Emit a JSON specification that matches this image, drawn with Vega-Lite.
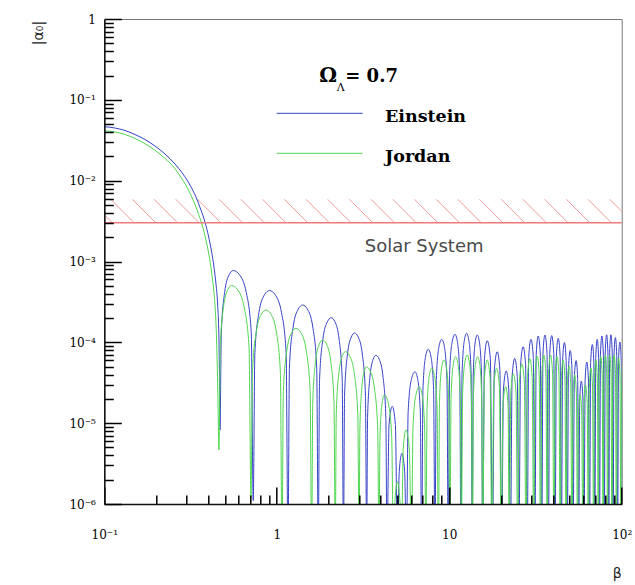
{
"$schema": "https://vega.github.io/schema/vega-lite/v6.json",
"width": 517.4,
"height": 485,
"autosize": {"type": "none"},
"padding": {"left": 104.3, "top": 19, "right": 13.3, "bottom": 81},
"background": "white",
"config": {"view": {"stroke": "#777", "strokeWidth": 1}, "axis": {"grid": false}},
"data": {"values": [{}]},
"resolve": {"axis": {"x": "independent", "y": "independent"}},
"datasets": {
"hatch": [
{"b":0.08152,"b2":0.11128,"a":0.005882,"a2":0.00302},{"b":0.10891,"b2":0.14867,"a":0.005882,"a2":0.00302},{"b":0.14551,"b2":0.19864,"a":0.005882,"a2":0.00302},{"b":0.1944,"b2":0.26538,"a":0.005882,"a2":0.00302},{"b":0.25972,"b2":0.35454,"a":0.005882,"a2":0.00302},{"b":0.34698,"b2":0.47366,"a":0.005882,"a2":0.00302},{"b":0.46356,"b2":0.63281,"a":0.005882,"a2":0.00302},{"b":0.6193,"b2":0.84541,"a":0.005882,"a2":0.00302},{"b":0.82737,"b2":1.12944,"a":0.005882,"a2":0.00302},{"b":1.1053,"b2":1.50884,"a":0.005882,"a2":0.00302},{"b":1.4767,"b2":2.01584,"a":0.005882,"a2":0.00302},{"b":1.9729,"b2":2.69321,"a":0.005882,"a2":0.00302},{"b":2.6357,"b2":3.59799,"a":0.005882,"a2":0.00302},{"b":3.5213,"b2":4.80693,"a":0.005882,"a2":0.00302},{"b":4.7044,"b2":6.42198,"a":0.005882,"a2":0.00302},{"b":6.2849,"b2":8.57952,"a":0.005882,"a2":0.00302},{"b":8.3965,"b2":11.4621,"a":0.005882,"a2":0.00302},{"b":11.219,"b2":15.3151,"a":0.005882,"a2":0.00302},{"b":14.987,"b2":20.4588,"a":0.005882,"a2":0.00302},{"b":20.022,"b2":27.332,"a":0.005882,"a2":0.00302},{"b":26.748,"b2":36.5137,"a":0.005882,"a2":0.00302},{"b":35.735,"b2":48.7819,"a":0.005882,"a2":0.00302},{"b":47.742,"b2":65.1726,"a":0.005882,"a2":0.00302},{"b":63.783,"b2":87.0702,"a":0.005882,"a2":0.00302},{"b":85.212,"b2":116.323,"a":0.005882,"a2":0.00302}
],
"curves": [
{"s":"Einstein","b":0.1,"a":0.0465},{"s":"Einstein","b":0.11536,"a":0.044817},{"s":"Einstein","b":0.13183,"a":0.041737},{"s":"Einstein","b":0.15065,"a":0.03724},{"s":"Einstein","b":0.17216,"a":0.032297},{"s":"Einstein","b":0.19674,"a":0.026838},{"s":"Einstein","b":0.22484,"a":0.021369},{"s":"Einstein","b":0.25696,"a":0.016072},{"s":"Einstein","b":0.28591,"a":0.012088},{"s":"Einstein","b":0.31391,"a":0.0088359},{"s":"Einstein","b":0.34008,"a":0.0062774},{"s":"Einstein","b":0.36357,"a":0.0043346},{"s":"Einstein","b":0.3835,"a":0.0030795},{"s":"Einstein","b":0.40185,"a":0.0020667},{"s":"Einstein","b":0.41826,"a":0.0013481},{"s":"Einstein","b":0.43246,"a":0.00085456},{"s":"Einstein","b":0.44416,"a":0.00052653},{"s":"Einstein","b":0.45435,"a":2.8946e-4},{"s":"Einstein","b":0.4623,"a":1.0681e-4},{"s":"Einstein","b":0.46603,"a":2.5704e-5},{"s":"Einstein","b":0.4685,"a":8.23e-6},
{"s":"Einstein","b":0.477,"a":1.322e-4},{"s":"Einstein","b":0.4985,"a":4.133e-4},{"s":"Einstein","b":0.5305,"a":6.902e-4},{"s":"Einstein","b":0.5595,"a":7.734e-4},{"s":"Einstein","b":0.606,"a":6.902e-4},{"s":"Einstein","b":0.6656,"a":4.133e-4},{"s":"Einstein","b":0.7113,"a":1.322e-4},{"s":"Einstein","b":0.7305,"a":1.1e-6},
{"s":"Einstein","b":0.7467,"a":7.477e-5},{"s":"Einstein","b":0.7882,"a":2.337e-4},{"s":"Einstein","b":0.8502,"a":3.903e-4},{"s":"Einstein","b":0.9072,"a":4.375e-4},{"s":"Einstein","b":0.9769,"a":3.903e-4},{"s":"Einstein","b":1.0652,"a":2.337e-4},{"s":"Einstein","b":1.1331,"a":7.477e-5},{"s":"Einstein","b":1.1613,"a":3e-7},
{"s":"Einstein","b":1.1844,"a":4.946e-5},{"s":"Einstein","b":1.244,"a":1.546e-4},{"s":"Einstein","b":1.3323,"a":2.582e-4},{"s":"Einstein","b":1.413,"a":2.894e-4},{"s":"Einstein","b":1.5041,"a":2.582e-4},{"s":"Einstein","b":1.6178,"a":1.546e-4},{"s":"Einstein","b":1.7042,"a":4.946e-5},{"s":"Einstein","b":1.7401,"a":3e-7},
{"s":"Einstein","b":1.7706,"a":3.445e-5},{"s":"Einstein","b":1.8491,"a":1.077e-4},{"s":"Einstein","b":1.9648,"a":1.799e-4},{"s":"Einstein","b":2.0698,"a":2.016e-4},{"s":"Einstein","b":2.1735,"a":1.799e-4},{"s":"Einstein","b":2.301,"a":1.077e-4},{"s":"Einstein","b":2.3965,"a":3.445e-5},{"s":"Einstein","b":2.4359,"a":3e-7},
{"s":"Einstein","b":2.4726,"a":2.228e-5},{"s":"Einstein","b":2.5668,"a":6.963e-5},{"s":"Einstein","b":2.7047,"a":1.163e-4},{"s":"Einstein","b":2.8287,"a":1.3035e-4},{"s":"Einstein","b":2.968,"a":1.163e-4},{"s":"Einstein","b":3.1391,"a":6.963e-5},{"s":"Einstein","b":3.2674,"a":2.228e-5},{"s":"Einstein","b":3.3201,"a":3e-7},
{"s":"Einstein","b":3.3616,"a":1.18e-5},{"s":"Einstein","b":3.4679,"a":3.69e-5},{"s":"Einstein","b":3.6216,"a":6.162e-5},{"s":"Einstein","b":3.759,"a":6.907e-5},{"s":"Einstein","b":3.9283,"a":6.162e-5},{"s":"Einstein","b":4.1354,"a":3.69e-5},{"s":"Einstein","b":4.29,"a":1.18e-5},{"s":"Einstein","b":4.3535,"a":3e-7},
{"s":"Einstein","b":4.4784,"a":9.674e-6},{"s":"Einstein","b":4.6728,"a":1.6155e-5},{"s":"Einstein","b":4.8714,"a":9.674e-6},{"s":"Einstein","b":5.0086,"a":3e-7},
{"s":"Einstein","b":5.1302,"a":2.536e-6},{"s":"Einstein","b":5.3186,"a":4.235e-6},{"s":"Einstein","b":5.5138,"a":2.536e-6},{"s":"Einstein","b":5.6478,"a":3e-7},
{"s":"Einstein","b":5.7775,"a":1.385e-5},{"s":"Einstein","b":6.0457,"a":3.545e-5},{"s":"Einstein","b":6.3264,"a":4.3285e-5},{"s":"Einstein","b":6.5569,"a":3.545e-5},{"s":"Einstein","b":6.7956,"a":1.385e-5},{"s":"Einstein","b":6.9183,"a":3e-7},
{"s":"Einstein","b":7.0413,"a":2.621e-5},{"s":"Einstein","b":7.2939,"a":6.711e-5},{"s":"Einstein","b":7.5555,"a":8.194e-5},{"s":"Einstein","b":7.8307,"a":6.711e-5},{"s":"Einstein","b":8.1159,"a":2.621e-5},{"s":"Einstein","b":8.2623,"a":3e-7},
{"s":"Einstein","b":8.4138,"a":3.485e-5},{"s":"Einstein","b":8.7248,"a":8.922e-5},{"s":"Einstein","b":9.0473,"a":1.0894e-4},{"s":"Einstein","b":9.3668,"a":8.922e-5},{"s":"Einstein","b":9.6977,"a":3.485e-5},{"s":"Einstein","b":9.8674,"a":3e-7},
{"s":"Einstein","b":10.045,"a":4.019e-5},{"s":"Einstein","b":10.412,"a":1.0288e-4},{"s":"Einstein","b":10.79,"a":1.2562e-4},{"s":"Einstein","b":11.142,"a":1.0288e-4},{"s":"Einstein","b":11.505,"a":4.019e-5},{"s":"Einstein","b":11.691,"a":3e-7},
{"s":"Einstein","b":11.871,"a":4.134e-5},{"s":"Einstein","b":12.238,"a":1.0585e-4},{"s":"Einstein","b":12.614,"a":1.2924e-4},{"s":"Einstein","b":12.997,"a":1.0585e-4},{"s":"Einstein","b":13.393,"a":4.134e-5},{"s":"Einstein","b":13.594,"a":3e-7},
{"s":"Einstein","b":13.776,"a":3.939e-5},{"s":"Einstein","b":14.148,"a":1.0084e-4},{"s":"Einstein","b":14.531,"a":1.2313e-4},{"s":"Einstein","b":14.957,"a":1.0084e-4},{"s":"Einstein","b":15.394,"a":3.939e-5},{"s":"Einstein","b":15.618,"a":3e-7},
{"s":"Einstein","b":16.006,"a":6.269e-5},{"s":"Einstein","b":16.607,"a":1.0469e-4},{"s":"Einstein","b":17.313,"a":6.269e-5},{"s":"Einstein","b":17.801,"a":3e-7},
{"s":"Einstein","b":18.263,"a":4.582e-5},{"s":"Einstein","b":18.979,"a":7.652e-5},{"s":"Einstein","b":19.659,"a":4.582e-5},{"s":"Einstein","b":20.127,"a":3e-7},
{"s":"Einstein","b":20.627,"a":2.645e-5},{"s":"Einstein","b":21.402,"a":4.417e-5},{"s":"Einstein","b":22.133,"a":2.645e-5},{"s":"Einstein","b":22.635,"a":3e-7},
{"s":"Einstein","b":23.161,"a":3.797e-5},{"s":"Einstein","b":23.972,"a":6.342e-5},{"s":"Einstein","b":24.792,"a":3.797e-5},{"s":"Einstein","b":25.355,"a":3e-7},
{"s":"Einstein","b":25.93,"a":5.284e-5},{"s":"Einstein","b":26.817,"a":8.824e-5},{"s":"Einstein","b":27.712,"a":5.284e-5},{"s":"Einstein","b":28.325,"a":3e-7},
{"s":"Einstein","b":28.89,"a":6.523e-5},{"s":"Einstein","b":29.759,"a":1.0894e-4},{"s":"Einstein","b":30.728,"a":6.523e-5},{"s":"Einstein","b":31.391,"a":3e-7},
{"s":"Einstein","b":31.95,"a":7.167e-5},{"s":"Einstein","b":32.805,"a":1.1969e-4},{"s":"Einstein","b":33.738,"a":7.167e-5},{"s":"Einstein","b":34.374,"a":3e-7},
{"s":"Einstein","b":34.967,"a":7.373e-5},{"s":"Einstein","b":35.874,"a":1.2313e-4},{"s":"Einstein","b":36.895,"a":7.373e-5},{"s":"Einstein","b":37.59,"a":3e-7},
{"s":"Einstein","b":38.258,"a":7.269e-5},{"s":"Einstein","b":39.283,"a":1.2139e-4},{"s":"Einstein","b":40.368,"a":7.269e-5},{"s":"Einstein","b":41.106,"a":3e-7},
{"s":"Einstein","b":41.793,"a":6.713e-5},{"s":"Einstein","b":42.843,"a":1.121e-4},{"s":"Einstein","b":43.956,"a":6.713e-5},{"s":"Einstein","b":44.712,"a":3e-7},
{"s":"Einstein","b":45.435,"a":5.955e-5},{"s":"Einstein","b":46.541,"a":9.945e-5},{"s":"Einstein","b":47.633,"a":5.955e-5},{"s":"Einstein","b":48.377,"a":3e-7},
{"s":"Einstein","b":49.132,"a":4.741e-5},{"s":"Einstein","b":50.286,"a":7.918e-5},{"s":"Einstein","b":51.467,"a":4.741e-5},{"s":"Einstein","b":52.271,"a":3e-7},
{"s":"Einstein","b":53.115,"a":3.567e-5},{"s":"Einstein","b":54.406,"a":5.957e-5},{"s":"Einstein","b":55.552,"a":3.567e-5},{"s":"Einstein","b":56.327,"a":3e-7},
{"s":"Einstein","b":57.115,"a":1.989e-5},{"s":"Einstein","b":58.318,"a":3.321e-5},{"s":"Einstein","b":59.593,"a":1.989e-5},{"s":"Einstein","b":60.457,"a":3e-7},
{"s":"Einstein","b":61.368,"a":3.416e-5},{"s":"Einstein","b":62.76,"a":5.705e-5},{"s":"Einstein","b":64.131,"a":3.416e-5},{"s":"Einstein","b":65.062,"a":3e-7},
{"s":"Einstein","b":66.078,"a":5.627e-5},{"s":"Einstein","b":67.631,"a":9.397e-5},{"s":"Einstein","b":68.944,"a":5.627e-5},{"s":"Einstein","b":69.833,"a":3e-7},
{"s":"Einstein","b":70.735,"a":6.523e-5},{"s":"Einstein","b":72.106,"a":1.0894e-4},{"s":"Einstein","b":73.447,"a":6.523e-5},{"s":"Einstein","b":74.353,"a":3e-7},
{"s":"Einstein","b":75.313,"a":7.167e-5},{"s":"Einstein","b":76.775,"a":1.1969e-4},{"s":"Einstein","b":78.265,"a":7.167e-5},{"s":"Einstein","b":79.274,"a":3e-7},
{"s":"Einstein","b":80.253,"a":7.416e-5},{"s":"Einstein","b":81.745,"a":1.2384e-4},{"s":"Einstein","b":83.199,"a":7.416e-5},{"s":"Einstein","b":84.182,"a":3e-7},
{"s":"Einstein","b":85.132,"a":7.416e-5},{"s":"Einstein","b":86.574,"a":1.2384e-4},{"s":"Einstein","b":88.115,"a":7.416e-5},{"s":"Einstein","b":89.156,"a":3e-7},
{"s":"Einstein","b":90.257,"a":6.867e-5},{"s":"Einstein","b":91.935,"a":1.1468e-4},{"s":"Einstein","b":93.568,"a":6.867e-5},{"s":"Einstein","b":94.674,"a":3e-7},
{"s":"Einstein","b":95.853,"a":6.041e-5},{"s":"Einstein","b":97.636,"a":1.0088e-4},{"s":"Einstein","b":99.371,"a":6.041e-5},{"s":"Einstein","b":100.55,"a":3e-7},
{"s":"Jordan","b":0.1,"a":0.0415},{"s":"Jordan","b":0.11536,"a":0.039991},{"s":"Jordan","b":0.13183,"a":0.03724},{"s":"Jordan","b":0.15065,"a":0.033232},{"s":"Jordan","b":0.17216,"a":0.028655},{"s":"Jordan","b":0.19674,"a":0.023744},{"s":"Jordan","b":0.22484,"a":0.018798},{"s":"Jordan","b":0.25696,"a":0.014057},{"s":"Jordan","b":0.28213,"a":0.010483},{"s":"Jordan","b":0.3077,"a":0.0076629},{"s":"Jordan","b":0.33113,"a":0.005444},{"s":"Jordan","b":0.35257,"a":0.003813},{"s":"Jordan","b":0.37092,"a":0.0027479},{"s":"Jordan","b":0.38866,"a":0.0018441},{"s":"Jordan","b":0.40454,"a":0.0012028},{"s":"Jordan","b":0.41826,"a":0.00076254},{"s":"Jordan","b":0.42957,"a":0.00046982},{"s":"Jordan","b":0.43944,"a":2.6577e-4},{"s":"Jordan","b":0.44772,"a":1.0681e-4},{"s":"Jordan","b":0.45496,"a":2.5704e-5},{"s":"Jordan","b":0.4623,"a":4.652e-6},
{"s":"Jordan","b":0.47021,"a":8.624e-5},{"s":"Jordan","b":0.49059,"a":2.696e-4},{"s":"Jordan","b":0.52055,"a":4.502e-4},{"s":"Jordan","b":0.54771,"a":5.046e-4},{"s":"Jordan","b":0.59172,"a":4.502e-4},{"s":"Jordan","b":0.64759,"a":2.696e-4},{"s":"Jordan","b":0.69063,"a":8.624e-5},{"s":"Jordan","b":0.70865,"a":1.2e-6},
{"s":"Jordan","b":0.72299,"a":4.29e-5},{"s":"Jordan","b":0.7601,"a":1.341e-4},{"s":"Jordan","b":0.81527,"a":2.239e-4},{"s":"Jordan","b":0.86574,"a":2.51e-4},{"s":"Jordan","b":0.92304,"a":2.239e-4},{"s":"Jordan","b":0.99467,"a":1.341e-4},{"s":"Jordan","b":1.0493,"a":4.29e-5},{"s":"Jordan","b":1.0718,"a":3e-7},
{"s":"Jordan","b":1.0921,"a":2.548e-5},{"s":"Jordan","b":1.1443,"a":7.964e-5},{"s":"Jordan","b":1.2217,"a":1.33e-4},{"s":"Jordan","b":1.2921,"a":1.4908e-4},{"s":"Jordan","b":1.376,"a":1.33e-4},{"s":"Jordan","b":1.4808,"a":7.964e-5},{"s":"Jordan","b":1.5603,"a":2.548e-5},{"s":"Jordan","b":1.5934,"a":3e-7},
{"s":"Jordan","b":1.617,"a":1.825e-5},{"s":"Jordan","b":1.6774,"a":5.706e-5},{"s":"Jordan","b":1.7659,"a":9.53e-5},{"s":"Jordan","b":1.8454,"a":1.0681e-4},{"s":"Jordan","b":1.9408,"a":9.53e-5},{"s":"Jordan","b":2.0585,"a":5.706e-5},{"s":"Jordan","b":2.147,"a":1.825e-5},{"s":"Jordan","b":2.1834,"a":3e-7},
{"s":"Jordan","b":2.2133,"a":1.308e-5},{"s":"Jordan","b":2.29,"a":4.088e-5},{"s":"Jordan","b":2.4017,"a":6.827e-5},{"s":"Jordan","b":2.5019,"a":7.652e-5},{"s":"Jordan","b":2.643,"a":6.827e-5},{"s":"Jordan","b":2.8178,"a":4.088e-5},{"s":"Jordan","b":2.9494,"a":1.308e-5},{"s":"Jordan","b":3.0039,"a":3e-7},
{"s":"Jordan","b":3.0333,"a":8.457e-6},{"s":"Jordan","b":3.1083,"a":2.644e-5},{"s":"Jordan","b":3.2159,"a":4.415e-5},{"s":"Jordan","b":3.3113,"a":4.949e-5},{"s":"Jordan","b":3.4813,"a":4.415e-5},{"s":"Jordan","b":3.6909,"a":2.644e-5},{"s":"Jordan","b":3.8479,"a":8.457e-6},{"s":"Jordan","b":3.9126,"a":3e-7},
{"s":"Jordan","b":3.9705,"a":7.13e-6},{"s":"Jordan","b":4.0888,"a":1.8255e-5},{"s":"Jordan","b":4.2107,"a":2.229e-5},{"s":"Jordan","b":4.418,"a":1.8255e-5},{"s":"Jordan","b":4.6355,"a":7.13e-6},{"s":"Jordan","b":4.7482,"a":3e-7},
{"s":"Jordan","b":4.8507,"a":1.129e-6},{"s":"Jordan","b":5.0086,"a":1.886e-6},{"s":"Jordan","b":5.1715,"a":1.129e-6},{"s":"Jordan","b":5.2833,"a":3e-7},
{"s":"Jordan","b":5.4117,"a":4.925e-6},{"s":"Jordan","b":5.6104,"a":8.225e-6},{"s":"Jordan","b":5.863,"a":4.925e-6},{"s":"Jordan","b":6.0377,"a":3e-7},
{"s":"Jordan","b":6.1649,"a":9.034e-6},{"s":"Jordan","b":6.4269,"a":2.313e-5},{"s":"Jordan","b":6.7002,"a":2.824e-5},{"s":"Jordan","b":6.9442,"a":2.313e-5},{"s":"Jordan","b":7.1972,"a":9.034e-6},{"s":"Jordan","b":7.3271,"a":3e-7},
{"s":"Jordan","b":7.4394,"a":1.5256e-5},{"s":"Jordan","b":7.6694,"a":3.906e-5},{"s":"Jordan","b":7.9063,"a":4.769e-5},{"s":"Jordan","b":8.1986,"a":3.906e-5},{"s":"Jordan","b":8.5022,"a":1.5256e-5},{"s":"Jordan","b":8.6574,"a":3e-7},
{"s":"Jordan","b":8.7855,"a":1.932e-5},{"s":"Jordan","b":9.0473,"a":4.947e-5},{"s":"Jordan","b":9.317,"a":6.04e-5},{"s":"Jordan","b":9.6203,"a":4.947e-5},{"s":"Jordan","b":9.9335,"a":1.932e-5},{"s":"Jordan","b":10.094,"a":3e-7},
{"s":"Jordan","b":10.249,"a":2.123e-5},{"s":"Jordan","b":10.565,"a":5.436e-5},{"s":"Jordan","b":10.891,"a":6.637e-5},{"s":"Jordan","b":11.233,"a":5.436e-5},{"s":"Jordan","b":11.588,"a":2.123e-5},{"s":"Jordan","b":11.768,"a":3e-7},
{"s":"Jordan","b":11.951,"a":2.229e-5},{"s":"Jordan","b":12.329,"a":5.707e-5},{"s":"Jordan","b":12.716,"a":6.968e-5},{"s":"Jordan","b":13.074,"a":5.707e-5},{"s":"Jordan","b":13.443,"a":2.229e-5},{"s":"Jordan","b":13.631,"a":3e-7},
{"s":"Jordan","b":13.821,"a":2.123e-5},{"s":"Jordan","b":14.209,"a":5.436e-5},{"s":"Jordan","b":14.609,"a":6.637e-5},{"s":"Jordan","b":15.005,"a":5.436e-5},{"s":"Jordan","b":15.411,"a":2.123e-5},{"s":"Jordan","b":15.618,"a":3e-7},
{"s":"Jordan","b":16.006,"a":3.617e-5},{"s":"Jordan","b":16.607,"a":6.04e-5},{"s":"Jordan","b":17.244,"a":3.617e-5},{"s":"Jordan","b":17.683,"a":3e-7},
{"s":"Jordan","b":18.132,"a":2.856e-5},{"s":"Jordan","b":18.827,"a":4.769e-5},{"s":"Jordan","b":19.533,"a":2.856e-5},{"s":"Jordan","b":20.02,"a":3e-7},
{"s":"Jordan","b":20.506,"a":1.691e-5},{"s":"Jordan","b":21.259,"a":2.824e-5},{"s":"Jordan","b":21.922,"a":1.691e-5},{"s":"Jordan","b":22.275,"a":3e-7},
{"s":"Jordan","b":22.769,"a":2.428e-5},{"s":"Jordan","b":23.528,"a":4.054e-5},{"s":"Jordan","b":24.372,"a":2.428e-5},{"s":"Jordan","b":24.952,"a":3e-7},
{"s":"Jordan","b":25.504,"a":3.229e-5},{"s":"Jordan","b":26.356,"a":5.392e-5},{"s":"Jordan","b":27.257,"a":3.229e-5},{"s":"Jordan","b":27.875,"a":3e-7},
{"s":"Jordan","b":28.447,"a":3.777e-5},{"s":"Jordan","b":29.326,"a":6.307e-5},{"s":"Jordan","b":30.256,"a":3.777e-5},{"s":"Jordan","b":30.892,"a":3e-7},
{"s":"Jordan","b":31.459,"a":4.055e-5},{"s":"Jordan","b":32.328,"a":6.772e-5},{"s":"Jordan","b":33.219,"a":4.055e-5},{"s":"Jordan","b":33.828,"a":3e-7},
{"s":"Jordan","b":34.429,"a":4.172e-5},{"s":"Jordan","b":35.351,"a":6.968e-5},{"s":"Jordan","b":36.327,"a":4.172e-5},{"s":"Jordan","b":36.993,"a":3e-7},
{"s":"Jordan","b":37.651,"a":4.172e-5},{"s":"Jordan","b":38.66,"a":6.968e-5},{"s":"Jordan","b":39.726,"a":4.172e-5},{"s":"Jordan","b":40.454,"a":3e-7},
{"s":"Jordan","b":41.128,"a":3.997e-5},{"s":"Jordan","b":42.163,"a":6.676e-5},{"s":"Jordan","b":43.257,"a":3.997e-5},{"s":"Jordan","b":44.003,"a":3e-7},
{"s":"Jordan","b":44.689,"a":3.617e-5},{"s":"Jordan","b":45.74,"a":6.04e-5},{"s":"Jordan","b":46.852,"a":3.617e-5},{"s":"Jordan","b":47.608,"a":3e-7},
{"s":"Jordan","b":48.352,"a":3.05e-5},{"s":"Jordan","b":49.487,"a":5.093e-5},{"s":"Jordan","b":50.65,"a":3.05e-5},{"s":"Jordan","b":51.44,"a":3e-7},
{"s":"Jordan","b":52.216,"a":2.36e-5},{"s":"Jordan","b":53.4,"a":3.941e-5},{"s":"Jordan","b":54.611,"a":2.36e-5},{"s":"Jordan","b":55.433,"a":3e-7},
{"s":"Jordan","b":56.208,"a":1.335e-5},{"s":"Jordan","b":57.39,"a":2.229e-5},{"s":"Jordan","b":58.645,"a":1.335e-5},{"s":"Jordan","b":59.496,"a":3e-7},
{"s":"Jordan","b":60.36,"a":1.774e-5},{"s":"Jordan","b":61.68,"a":2.963e-5},{"s":"Jordan","b":63.079,"a":1.774e-5},{"s":"Jordan","b":64.03,"a":3e-7},
{"s":"Jordan","b":64.924,"a":2.881e-5},{"s":"Jordan","b":66.29,"a":4.812e-5},{"s":"Jordan","b":67.739,"a":2.881e-5},{"s":"Jordan","b":68.723,"a":3e-7},
{"s":"Jordan","b":69.571,"a":3.617e-5},{"s":"Jordan","b":70.865,"a":6.04e-5},{"s":"Jordan","b":72.24,"a":3.617e-5},{"s":"Jordan","b":73.174,"a":3e-7},
{"s":"Jordan","b":74.116,"a":3.997e-5},{"s":"Jordan","b":75.555,"a":6.676e-5},{"s":"Jordan","b":77.022,"a":3.997e-5},{"s":"Jordan","b":78.013,"a":3e-7},
{"s":"Jordan","b":78.935,"a":4.172e-5},{"s":"Jordan","b":80.34,"a":6.968e-5},{"s":"Jordan","b":81.833,"a":4.172e-5},{"s":"Jordan","b":82.843,"a":3e-7},
{"s":"Jordan","b":83.777,"a":4.172e-5},{"s":"Jordan","b":85.199,"a":6.968e-5},{"s":"Jordan","b":86.714,"a":4.172e-5},{"s":"Jordan","b":87.738,"a":3e-7},
{"s":"Jordan","b":88.775,"a":4.113e-5},{"s":"Jordan","b":90.352,"a":6.869e-5},{"s":"Jordan","b":92.032,"a":4.113e-5},{"s":"Jordan","b":93.17,"a":3e-7},
{"s":"Jordan","b":94.271,"a":3.83e-5},{"s":"Jordan","b":95.946,"a":6.396e-5},{"s":"Jordan","b":97.731,"a":3.83e-5},{"s":"Jordan","b":98.937,"a":3e-7},
{"s":"Jordan","b":100.0,"a":3.417e-5},{"s":"Jordan","b":101.2,"a":5.7e-5}
]
},
"layer": [
{
"data": {"name": "hatch"},
"mark": {"type": "rule", "stroke": "#f29c9c", "strokeWidth": 1, "clip": true},
"encoding": {
"x": {"field": "b", "type": "quantitative", "scale": {"type": "log", "domain": [0.1, 100]},
"axis": {"orient": "bottom", "zindex": 1, "values": [0.2,0.3,0.4,0.5,0.6,0.7,0.8,0.9,2,3,4,5,6,7,8,9,20,30,40,50,60,70,80,90], "tickSize": -9, "labels": false, "domain": false, "title": null, "tickColor": "#000", "tickWidth": 1.5}},
"x2": {"field": "b2"},
"y": {"field": "a", "type": "quantitative", "scale": {"type": "log", "domain": [0.000001, 1]},
"axis": {"orient": "left", "zindex": 1, "values": [2e-6,3e-6,4e-6,5e-6,6e-6,7e-6,8e-6,9e-6,2e-5,3e-5,4e-5,5e-5,6e-5,7e-5,8e-5,9e-5,2e-4,3e-4,4e-4,5e-4,6e-4,7e-4,8e-4,9e-4,0.002,0.003,0.004,0.005,0.006,0.007,0.008,0.009,0.02,0.03,0.04,0.05,0.06,0.07,0.08,0.09,0.2,0.3,0.4,0.5,0.6,0.7,0.8,0.9], "tickSize": -9, "labels": false, "domain": false, "title": null, "tickColor": "#000", "tickWidth": 1.5}},
"y2": {"field": "a2"}
}
},
{
"data": {"name": "curves"},
"mark": {"type": "line", "interpolate": "monotone", "strokeWidth": 1, "clip": true},
"encoding": {
"x": {"field": "b", "type": "quantitative", "scale": {"type": "log", "domain": [0.1, 100]}, "title": "β",
"axis": {
"orient": "bottom", "zindex": 1,
"values": [0.1, 1, 10, 100],
"labelExpr": "round(log(datum.value)/LN10) == 0 ? '1' : round(log(datum.value)/LN10) == 1 ? '10' : '10' + ['⁻⁶','⁻⁵','⁻⁴','⁻³','⁻²','⁻¹','','','²'][round(log(datum.value)/LN10) + 6]",
"tickSize": -17,
"labelPadding": 42,
"labelFont": "DejaVu Serif", "labelFontSize": 12, "labelColor": "#000",
"labelFlush": false, "labelOverlap": false, "labelBound": false,
"domainColor": "#111", "domainWidth": 1.5, "tickColor": "#000", "tickWidth": 1.5,
"titleX": 512.4, "titleY": 69.3, "titleAlign": "center", "titleBaseline": "middle",
"titleFont": "DejaVu Sans", "titleFontSize": 14, "titleFontWeight": "normal", "titleColor": "#222"
}},
"y": {"field": "a", "type": "quantitative", "scale": {"type": "log", "domain": [0.000001, 1]}, "title": "|α₀|",
"axis": {
"orient": "left", "zindex": 1,
"values": [1e-6, 1e-5, 1e-4, 0.001, 0.01, 0.1, 1],
"labelExpr": "round(log(datum.value)/LN10) == 0 ? '1' : round(log(datum.value)/LN10) == 1 ? '10' : '10' + ['⁻⁶','⁻⁵','⁻⁴','⁻³','⁻²','⁻¹','','','²'][round(log(datum.value)/LN10) + 6]",
"tickSize": -17,
"labelPadding": 26,
"labelFont": "DejaVu Serif", "labelFontSize": 12, "labelColor": "#000",
"labelFlush": false, "labelOverlap": false, "labelBound": false,
"domainColor": "#111", "domainWidth": 1.5, "tickColor": "#000", "tickWidth": 1.5,
"titleX": -65.8, "titleY": 13.5, "titleAngle": 270, "titleAlign": "center", "titleBaseline": "middle",
"titleFont": "DejaVu Sans", "titleFontSize": 14, "titleFontWeight": "normal", "titleColor": "#222"
}},
"color": {"field": "s", "type": "nominal",
"scale": {"domain": ["Einstein", "Jordan"], "range": ["#3742c8", "#50d650"]},
"legend": null}
}
},
{
"mark": {"type": "rule", "stroke": "#ee7b7b", "strokeWidth": 1.5},
"encoding": {
"y": {"datum": 0.00302, "type": "quantitative", "axis": null}
}
},
{
"mark": {"type": "rule", "stroke": "#3742c8", "strokeWidth": 1},
"encoding": {
"x": {"datum": 0.99867, "type": "quantitative", "axis": null},
"x2": {"datum": 3.1478},
"y": {"datum": 0.06813, "type": "quantitative", "axis": null}
}
},
{
"mark": {"type": "rule", "stroke": "#50d650", "strokeWidth": 1},
"encoding": {
"x": {"datum": 0.99867, "type": "quantitative", "axis": null},
"x2": {"datum": 3.1478},
"y": {"datum": 0.0218, "type": "quantitative", "axis": null}
}
},
{
"mark": {"type": "text", "text": "Einstein", "font": "DejaVu Serif", "fontSize": 17.5, "fontWeight": "bold", "color": "#000", "align": "left", "baseline": "alphabetic"},
"encoding": {
"x": {"datum": 4.2389, "type": "quantitative", "axis": null},
"y": {"datum": 0.05363, "type": "quantitative", "axis": null}
}
},
{
"mark": {"type": "text", "text": "Jordan", "font": "DejaVu Serif", "fontSize": 17.5, "fontWeight": "bold", "color": "#000", "align": "left", "baseline": "alphabetic"},
"encoding": {
"x": {"datum": 4.2389, "type": "quantitative", "axis": null},
"y": {"datum": 0.01716, "type": "quantitative", "axis": null}
}
},
{
"mark": {"type": "text", "text": "Solar System", "font": "DejaVu Sans", "fontSize": 18, "color": "#4a4a4a", "align": "center", "baseline": "alphabetic"},
"encoding": {
"x": {"datum": 7.153, "type": "quantitative", "axis": null},
"y": {"datum": 0.001321, "type": "quantitative", "axis": null}
}
},
{
"mark": {"type": "text", "text": "Ω", "font": "DejaVu Serif", "fontSize": 20, "fontWeight": "bold", "color": "#000", "align": "left", "baseline": "alphabetic"},
"encoding": {
"x": {"datum": 1.7635, "type": "quantitative", "axis": null},
"y": {"datum": 0.1676, "type": "quantitative", "axis": null}
}
},
{
"mark": {"type": "text", "text": "Λ", "font": "DejaVu Serif", "fontSize": 11, "color": "#000", "align": "left", "baseline": "alphabetic", "dx": 17.5, "dy": 9},
"encoding": {
"x": {"datum": 1.7635, "type": "quantitative", "axis": null},
"y": {"datum": 0.1676, "type": "quantitative", "axis": null}
}
},
{
"mark": {"type": "text", "text": "= 0.7", "font": "DejaVu Serif", "fontSize": 18, "fontWeight": "bold", "color": "#000", "align": "left", "baseline": "alphabetic", "dx": 26},
"encoding": {
"x": {"datum": 1.7635, "type": "quantitative", "axis": null},
"y": {"datum": 0.1676, "type": "quantitative", "axis": null}
}
}
]
}
